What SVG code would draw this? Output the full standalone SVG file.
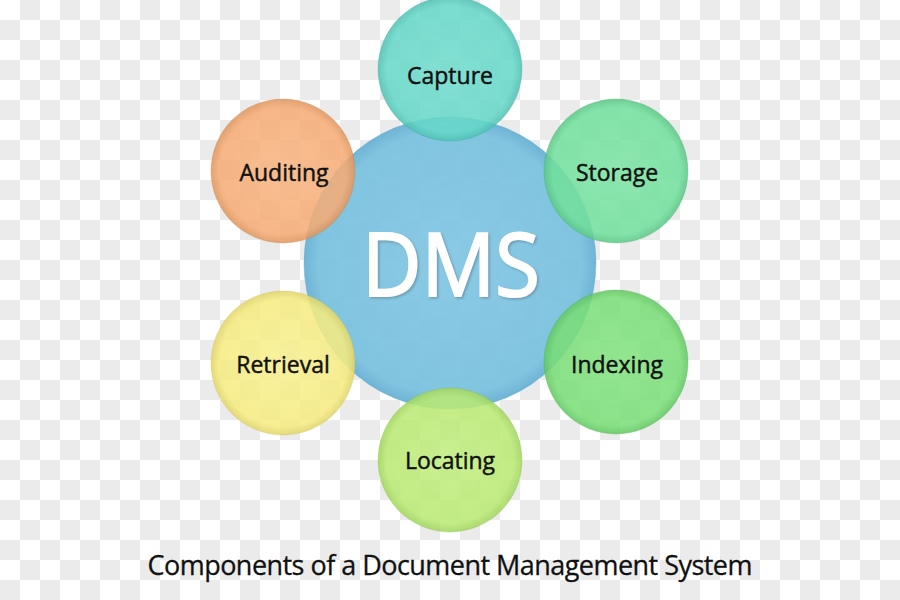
<svg xmlns="http://www.w3.org/2000/svg" width="900" height="600" viewBox="0 0 900 600">
  <defs>
    <pattern id="checker" x="0" y="0" width="40" height="40" patternUnits="userSpaceOnUse">
      <rect width="40" height="40" fill="#ffffff"/>
      <rect x="20" y="0" width="20" height="20" fill="#ebebeb"/>
      <rect x="0" y="20" width="20" height="20" fill="#ebebeb"/>
    </pattern>
    <radialGradient id="gDms" cx="50%" cy="50%" r="50%">
      <stop offset="0" stop-color="#84c8e4"/>
      <stop offset="0.9" stop-color="#7cc2e0"/>
      <stop offset="1" stop-color="#68b2d4"/>
    </radialGradient>
    <radialGradient id="gCap" cx="50%" cy="50%" r="50%">
      <stop offset="0" stop-color="#70dccd"/>
      <stop offset="0.88" stop-color="#66d8c8"/>
      <stop offset="1" stop-color="#4fc2b4"/>
    </radialGradient>
    <radialGradient id="gSto" cx="50%" cy="50%" r="50%">
      <stop offset="0" stop-color="#7ce4a4"/>
      <stop offset="0.88" stop-color="#72e09c"/>
      <stop offset="1" stop-color="#5cc886"/>
    </radialGradient>
    <radialGradient id="gIdx" cx="50%" cy="50%" r="50%">
      <stop offset="0" stop-color="#84e482"/>
      <stop offset="0.88" stop-color="#7ade78"/>
      <stop offset="1" stop-color="#62c862"/>
    </radialGradient>
    <radialGradient id="gLoc" cx="50%" cy="50%" r="50%">
      <stop offset="0" stop-color="#c2ee80"/>
      <stop offset="0.88" stop-color="#baea74"/>
      <stop offset="1" stop-color="#a2d65e"/>
    </radialGradient>
    <radialGradient id="gRet" cx="50%" cy="50%" r="50%">
      <stop offset="0" stop-color="#f8f090"/>
      <stop offset="0.88" stop-color="#f6ec82"/>
      <stop offset="1" stop-color="#e2d66a"/>
    </radialGradient>
    <radialGradient id="gAud" cx="50%" cy="50%" r="50%">
      <stop offset="0" stop-color="#f8b682"/>
      <stop offset="0.88" stop-color="#f6ac76"/>
      <stop offset="1" stop-color="#e0965e"/>
    </radialGradient>
    <filter id="shadow" x="-10%" y="-10%" width="120%" height="120%">
      <feDropShadow dx="1.5" dy="1.5" stdDeviation="1" flood-color="#5a7f90" flood-opacity="0.6"/>
    </filter>
  </defs>
  <style>
    .sat { opacity: 0.87; stroke-width: 1; stroke-opacity: 0.35; }
    .lbl { font-family: "Open Sans", "Noto Sans", "Liberation Sans", sans-serif; font-size: 23px; fill: #111111; stroke: #111111; stroke-width: 0.45px; text-anchor: middle; }
    .big { font-family: "Open Sans", "Noto Sans", "Liberation Sans", sans-serif; font-size: 88px; fill: #ffffff; stroke: #ffffff; stroke-width: 2px; text-anchor: middle; }
    .cap { font-family: "Open Sans", "Noto Sans", "Liberation Sans", sans-serif; font-size: 27px; fill: #111111; stroke: #111111; stroke-width: 0.3px; text-anchor: middle; }
  </style>

  <rect width="900" height="600" fill="url(#checker)"/>

  <g id="dms">
    <circle cx="450" cy="263" r="146" fill="url(#gDms)" opacity="0.95" stroke="#5aa6c8" stroke-opacity="0.4"/>
    <text class="big" x="451" y="296" textLength="178" lengthAdjust="spacingAndGlyphs" filter="url(#shadow)">DMS</text>
  </g>

  <g id="capture">
    <circle class="sat" cx="450" cy="69" r="72" fill="url(#gCap)" stroke="#3a9e92"/>
    <text class="lbl" x="450" y="84">Capture</text>
  </g>

  <g id="storage">
    <circle class="sat" cx="616" cy="171" r="72" fill="url(#gSto)" stroke="#3ea86a"/>
    <text class="lbl" x="617" y="181">Storage</text>
  </g>

  <g id="indexing">
    <circle class="sat" cx="616" cy="362" r="72" fill="url(#gIdx)" stroke="#48aa48"/>
    <text class="lbl" x="617" y="373">Indexing</text>
  </g>

  <g id="locating">
    <circle class="sat" cx="450" cy="460" r="72" fill="url(#gLoc)" stroke="#88b848"/>
    <text class="lbl" x="450" y="469">Locating</text>
  </g>

  <g id="retrieval">
    <circle class="sat" cx="283" cy="363" r="72" fill="url(#gRet)" stroke="#c4b84a"/>
    <text class="lbl" x="283" y="373">Retrieval</text>
  </g>

  <g id="auditing">
    <circle class="sat" cx="283" cy="171" r="72" fill="url(#gAud)" stroke="#c07a48"/>
    <text class="lbl" x="284" y="181">Auditing</text>
  </g>

  <text class="cap" x="450" y="575" textLength="605">Components of a Document Management System</text>
</svg>
